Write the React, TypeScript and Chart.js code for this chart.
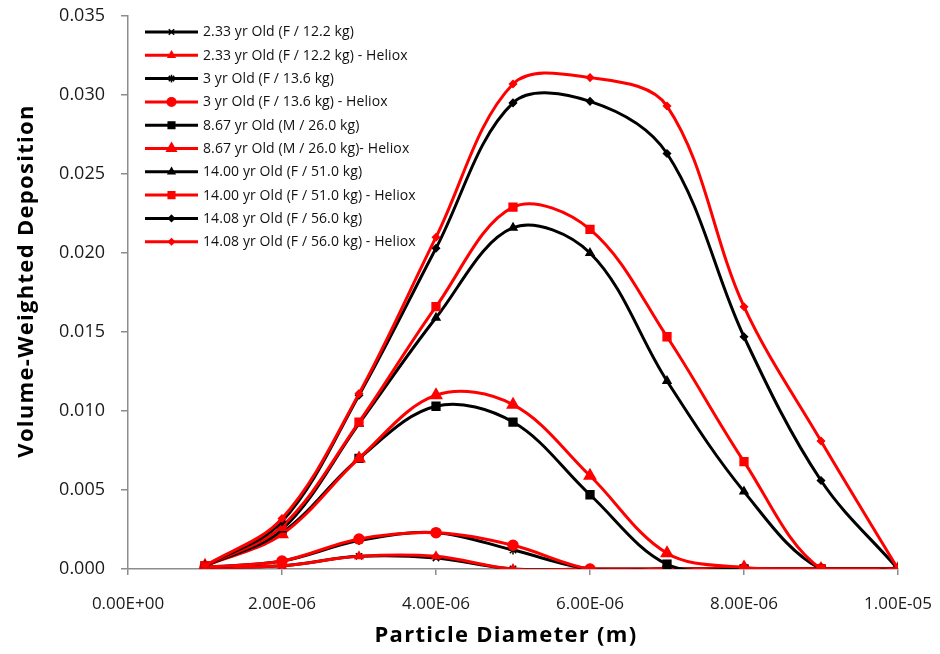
import React, { useEffect, useRef } from "react";
import { Chart, registerables } from "chart.js";
import { drawPoint } from "chart.js/helpers";

Chart.register(...registerables);

// Particle diameters (m)
const diameters = [1e-6, 2e-6, 3e-6, 4e-6, 5e-6, 6e-6, 7e-6, 8e-6, 9e-6, 1e-5];

const seriesLabels = [
  "2.33 yr Old (F / 12.2 kg)",
  "2.33 yr Old (F / 12.2 kg) - Heliox",
  "3 yr Old (F / 13.6 kg)",
  "3 yr Old (F / 13.6 kg) - Heliox",
  "8.67 yr Old (M / 26.0 kg)",
  "8.67 yr Old (M / 26.0 kg)- Heliox",
  "14.00 yr Old (F / 51.0 kg)",
  "14.00 yr Old (F / 51.0 kg) - Heliox",
  "14.08 yr Old (F / 56.0 kg)",
  "14.08 yr Old (F / 56.0 kg) - Heliox",
];

const s233 = [0.0001, 0.0002, 0.0008, 0.0007, 0.0, 0.0, 0.0, 0.0, 0.0, 0.0];
const s233H = [0.0001, 0.0002, 0.0008, 0.0008, 0.0, 0.0, 0.0, 0.0, 0.0, 0.0];
const s3 = [0.0001, 0.0005, 0.0018, 0.0023, 0.0012, 0.0, 0.0, 0.0, 0.0, 0.0];
const s3H = [0.0001, 0.0005, 0.0019, 0.0023, 0.0015, 0.0, 0.0, 0.0, 0.0, 0.0];
const s867 = [0.0002, 0.0023, 0.007, 0.0103, 0.0093, 0.0047, 0.0003, 0.0, 0.0, 0.0];
const s867H = [0.0002, 0.0022, 0.007, 0.011, 0.0104, 0.0059, 0.001, 0.0001, 0.0, 0.0];
const s1400 = [0.0002, 0.0025, 0.0092, 0.0159, 0.0216, 0.02, 0.0119, 0.0049, 0.0, 0.0];
const s1400H = [0.0002, 0.0027, 0.0093, 0.0166, 0.0229, 0.0215, 0.0147, 0.0068, 0.0, 0.0];
const s1408 = [0.0002, 0.003, 0.011, 0.0203, 0.0295, 0.0296, 0.0263, 0.0147, 0.0056, 0.0];
const s1408H = [0.0002, 0.0032, 0.0111, 0.021, 0.0307, 0.0311, 0.0293, 0.0166, 0.0081, 0.0];

const seriesValues = [s233, s233H, s3, s3H, s867, s867H, s1400, s1400H, s1408, s1408H];

const X_TITLE = "Particle Diameter (m)";
const Y_TITLE = "Volume-Weighted Deposition";

const BLACK = "#000000";
const RED = "#FF0000";
const seriesColors = [BLACK, RED, BLACK, RED, BLACK, RED, BLACK, RED, BLACK, RED];
const seriesMarkers = ["crossRot", "triangle", "star", "circle", "rect", "triangle", "triangle", "rect", "rectRot", "rectRot"];
const seriesMarkerSizes = [4.5, 4.5, 4.5, 5, 5.5, 6.5, 4.5, 5.5, 3.5, 3.5];

const xTickFormat = (v: number) => {
  if (Math.abs(v) < 1e-12) return "0.00E+00";
  const [m, e] = v.toExponential(2).split("e");
  const n = parseInt(e, 10);
  return m + "E" + (n < 0 ? "-" : "+") + String(Math.abs(n)).padStart(2, "0");
};

const FONT = "'Open Sans', 'Liberation Sans', sans-serif";

const legendPlugin = {
  id: "insideLegend",
  afterDraw(chart: any) {
    const ctx = chart.ctx;
    const x0 = 137;
    const x1 = 190;
    const xm = (x0 + x1) / 2;
    const yStart = 24;
    const step = 23.3;
    ctx.save();
    chart.data.datasets.forEach((ds: any, i: number) => {
      const y = yStart + i * step;
      ctx.strokeStyle = ds.borderColor;
      ctx.lineWidth = 3;
      ctx.beginPath();
      ctx.moveTo(x0, y);
      ctx.lineTo(x1, y);
      ctx.stroke();
      ctx.fillStyle = ds.borderColor;
      ctx.strokeStyle = ds.borderColor;
      ctx.lineWidth = 1.5;
      drawPoint(ctx, { pointStyle: ds.pointStyle, radius: ds.pointRadius * 0.85, rotation: 0, borderWidth: 1.5 }, xm, y);
      ctx.fillStyle = "#111";
      ctx.font = "14px " + FONT;
      (ctx as any).letterSpacing = "0.1px";
      ctx.textBaseline = "middle";
      ctx.textAlign = "left";
      ctx.fillText(ds.label, x1 + 5, y + 0.5);
      (ctx as any).letterSpacing = "0px";
    });
    ctx.restore();
  },
};

const titlesPlugin = {
  id: "axisTitles",
  afterDraw(chart: any) {
    const ctx = chart.ctx;
    ctx.save();
    ctx.fillStyle = "#000";
    ctx.textAlign = "center";
    ctx.textBaseline = "middle";
    ctx.font = "bold 22px " + FONT;
    (ctx as any).letterSpacing = "1.3px";
    ctx.fillText(X_TITLE, 498, 628);
    ctx.translate(19, 273);
    ctx.rotate(-Math.PI / 2);
    (ctx as any).letterSpacing = "1.3px";
    ctx.fillText(Y_TITLE, 0, 0);
    (ctx as any).letterSpacing = "0px";
    ctx.restore();
  },
};

export default function App() {
  const ref = useRef<HTMLCanvasElement | null>(null);
  useEffect(() => {
    if (!ref.current) return;
    const datasets = seriesValues.map((vals, i) => ({
      label: seriesLabels[i],
      data: diameters.map((d, j) => ({ x: d, y: vals[j] })),
      borderColor: seriesColors[i],
      backgroundColor: seriesColors[i],
      pointBackgroundColor: seriesColors[i],
      pointBorderColor: seriesColors[i],
      pointStyle: seriesMarkers[i],
      pointRadius: seriesMarkerSizes[i],
      pointBorderWidth: 1.5,
      borderWidth: 3,
      tension: 0.35,
      order: 20 - i,
    }));
    const chart = new Chart(ref.current, {
      type: "line",
      data: { datasets },
      plugins: [legendPlugin, titlesPlugin],
      options: {
        animation: false,
        responsive: false,
        layout: { padding: { top: 8, right: 34, left: 0, bottom: 0 } },
        elements: { line: { capBezierPoints: false } },
        plugins: { legend: { display: false }, tooltip: { enabled: false } },
        scales: {
          x: {
            type: "linear",
            min: 0,
            max: 1e-5,
            afterFit: (s: any) => {
              s.height = 77;
              s.paddingLeft = 0;
              s.paddingRight = 0;
            },
            ticks: {
              stepSize: 2e-6,
              callback: (v: any) => xTickFormat(Number(v)),
              font: { family: FONT, size: 17 },
              color: "#1a1a1a",
              padding: 19,
              maxRotation: 0,
            },
            grid: { display: true, drawOnChartArea: false, drawTicks: true, tickLength: 6, color: "#8c8c8c", lineWidth: 1.5 },
            border: { display: true, color: "#8c8c8c", width: 1.5 },
            title: { display: false },
          },
          y: {
            type: "linear",
            min: 0,
            max: 0.035,
            afterFit: (s: any) => {
              s.width = 120;
              s.paddingTop = 0;
              s.paddingBottom = 0;
            },
            ticks: {
              stepSize: 0.005,
              callback: (v: any) => Number(v).toFixed(3),
              font: { family: FONT, size: 18 },
              color: "#1a1a1a",
              padding: 16,
            },
            grid: { display: true, drawOnChartArea: false, drawTicks: true, tickLength: 7, color: "#8c8c8c", lineWidth: 1.5 },
            border: { display: true, color: "#8c8c8c", width: 1.5 },
            title: { display: false },
          },
        },
      },
    } as any);
    return () => chart.destroy();
  }, []);
  return (
    <div style={{ width: 924, height: 638 }}>
      <canvas ref={ref} width={924} height={638} style={{ display: "block" }} />
    </div>
  );
}
